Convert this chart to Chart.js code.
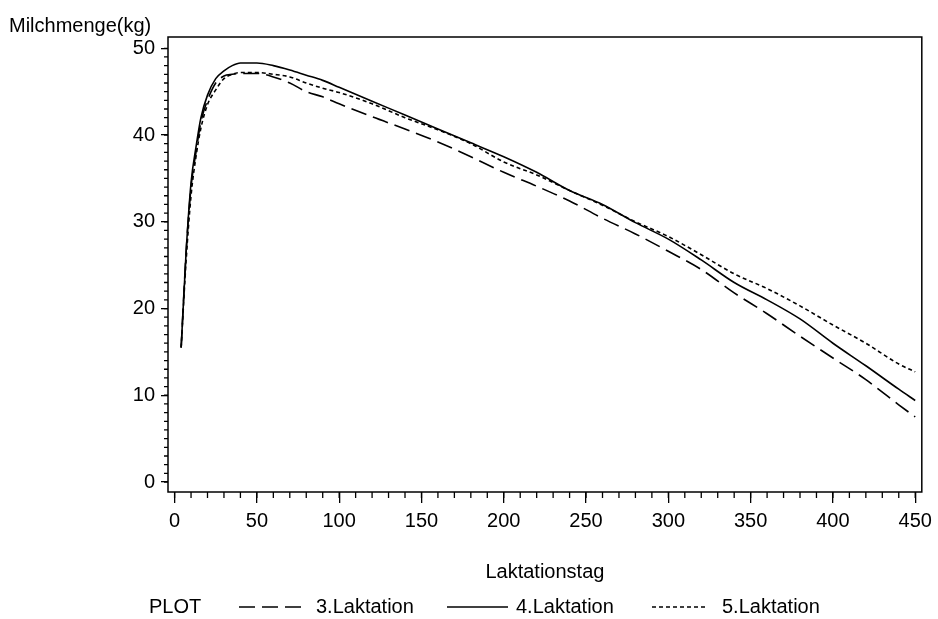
<!DOCTYPE html>
<html>
<head>
<meta charset="utf-8">
<script src="https://cdn.jsdelivr.net/npm/chart.js@4/dist/chart.umd.min.js"></script>
<style>
  html, body { margin: 0; padding: 0; background: #fff; }
  #wrap { width: 938px; height: 619px; }
</style>
</head>
<body>
<div id="wrap"><canvas id="milkChart" width="938" height="619"></canvas></div>
<script>
// Laktationstag (x) and Milchmenge in kg per Laktation
const days = [4, 7, 10, 13, 16, 20, 25, 30, 35, 40, 50, 60, 70, 80, 90, 100, 120, 140, 160, 180, 200, 220, 240, 260, 280, 300, 320, 340, 360, 380, 400, 420, 440, 450];
const lak3 = [15.5, 26.5, 34.0, 38.0, 41.5, 44.0, 46.0, 46.8, 47.0, 47.1, 47.1, 46.7, 46.0, 45.0, 44.4, 43.6, 42.1, 40.7, 39.2, 37.5, 35.7, 34.1, 32.4, 30.4, 28.6, 26.6, 24.5, 21.8, 19.4, 16.8, 14.3, 11.8, 8.9, 7.5];
const lak4 = [15.5, 26.5, 34.5, 38.6, 42.0, 44.6, 46.5, 47.4, 48.0, 48.3, 48.3, 48.0, 47.5, 46.9, 46.3, 45.5, 43.9, 42.3, 40.7, 39.1, 37.5, 35.7, 33.6, 32.0, 29.9, 28.0, 25.6, 23.0, 21.0, 18.8, 16.0, 13.4, 10.7, 9.4];
const lak5 = [15.5, 25.5, 33.0, 37.5, 40.8, 43.5, 45.2, 46.5, 47.0, 47.2, 47.2, 47.0, 46.7, 46.0, 45.4, 44.9, 43.6, 42.0, 40.6, 39.0, 36.9, 35.4, 33.6, 31.9, 30.0, 28.3, 26.2, 24.0, 22.3, 20.3, 18.1, 16.0, 13.6, 12.7];

const seriesLabels = ['3.Laktation', '4.Laktation', '5.Laktation'];
const xTicks = [0, 50, 100, 150, 200, 250, 300, 350, 400, 450];
const yTicks = [0, 10, 20, 30, 40, 50];
const xMinorStep = 10;
const yMinorStep = 1;

const FONT = '"Liberation Sans", Arial, Helvetica, sans-serif';
const dashes = [[16, 7], [], [4, 3]];

function toPoints(ys) {
    return days.map((d, i) => ({ x: d, y: ys[i] }));
}

// frame, minor ticks, titles and the legend row
const decorations = {
    id: 'decorations',
    afterDraw(chart) {
        const ctx = chart.ctx;
        const area = chart.chartArea;
        const xs = chart.scales.x;
        const ys = chart.scales.y;
        ctx.save();
        ctx.strokeStyle = '#000';
        ctx.lineWidth = 1.5;
        ctx.strokeRect(area.left, area.top, area.right - area.left, area.bottom - area.top);

        // minor ticks
        ctx.lineWidth = 1.3;
        ctx.beginPath();
        for (let v = xTicks[0]; v <= xTicks[xTicks.length - 1]; v += xMinorStep) {
            const px = xs.getPixelForValue(v);
            ctx.moveTo(px, area.bottom);
            ctx.lineTo(px, area.bottom + 6);
        }
        for (let v = yTicks[0]; v <= yTicks[yTicks.length - 1]; v += yMinorStep) {
            const py = ys.getPixelForValue(v);
            ctx.moveTo(area.left, py);
            ctx.lineTo(area.left - 4, py);
        }
        ctx.stroke();

        ctx.fillStyle = '#000';
        ctx.font = '20px ' + FONT;
        ctx.textBaseline = 'middle';
        ctx.textAlign = 'left';
        ctx.fillText('Milchmenge(kg)', 9, 26);
        ctx.textAlign = 'center';
        ctx.fillText('Laktationstag', (area.left + area.right) / 2, 572);

        // legend
        const ly = 607;
        ctx.textAlign = 'left';
        ctx.fillText('PLOT', 149, ly);
        const items = [
            { x0: 239, x1: 301, tx: 316 },
            { x0: 447, x1: 508, tx: 516 },
            { x0: 652, x1: 707, tx: 722 }
        ];
        items.forEach((it, i) => {
            ctx.beginPath();
            ctx.setLineDash(dashes[i]);
            ctx.lineWidth = 1.6;
            ctx.moveTo(it.x0, ly);
            ctx.lineTo(it.x1, ly);
            ctx.stroke();
            ctx.setLineDash([]);
            ctx.fillText(seriesLabels[i], it.tx, ly);
        });
        ctx.restore();
    }
};

const ctx = document.getElementById('milkChart').getContext('2d');
new Chart(ctx, {
    type: 'line',
    data: {
        datasets: [lak3, lak4, lak5].map((ys, i) => ({
            label: seriesLabels[i],
            data: toPoints(ys),
            borderColor: '#000',
            borderWidth: 1.6,
            borderDash: dashes[i],
            pointRadius: 0,
            fill: false,
            cubicInterpolationMode: 'monotone'
        }))
    },
    options: {
        responsive: false,
        animation: false,
        layout: { padding: { top: 37, right: 11, left: 0, bottom: 0 } },
        plugins: { legend: { display: false }, tooltip: { enabled: false } },
        scales: {
            x: {
                type: 'linear',
                min: -4,
                max: 454,
                afterBuildTicks: s => { s.ticks = xTicks.map(v => ({ value: v })); },
                afterFit: s => { s.height = 127; },
                grid: { drawOnChartArea: false, drawTicks: true, tickLength: 11, color: '#000', lineWidth: 1.3 },
                border: { display: false },
                ticks: { color: '#000', font: { family: FONT, size: 20 }, padding: 6, maxRotation: 0, autoSkip: false }
            },
            y: {
                type: 'linear',
                min: -1.15,
                max: 51.3,
                afterBuildTicks: s => { s.ticks = yTicks.map(v => ({ value: v })); },
                afterFit: s => { s.width = 168; },
                grid: { drawOnChartArea: false, drawTicks: true, tickLength: 7, color: '#000', lineWidth: 1.3 },
                border: { display: false },
                ticks: { color: '#000', font: { family: FONT, size: 20 }, padding: 6, autoSkip: false }
            }
        }
    },
    plugins: [decorations]
});
</script>
</body>
</html>
